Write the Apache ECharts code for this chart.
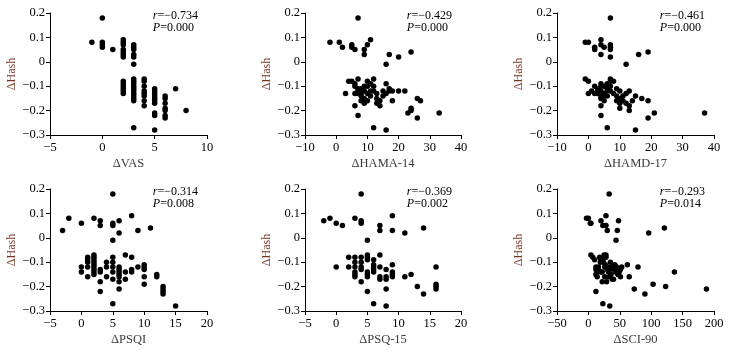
<!DOCTYPE html>
<html>
<head>
<meta charset="utf-8">
<script src="https://cdn.jsdelivr.net/npm/echarts@6/dist/echarts.min.js"></script>
<style>
  html, body { margin: 0; padding: 0; background: #fff; }
  #main { width: 729px; height: 353px; }
</style>
</head>
<body>
<div id="main"></div>
<script>
// [x, ΔHash] pairs
const vasData = [
  [0, 0.18], [-1, 0.08], [0, 0.08], [0, 0.07], [0, 0.06], [1, 0.05],
  [2, 0.09], [2, 0.08], [2, 0.07], [2, 0.05], [2, 0.04], [2, 0.03], [2, 0.02],
  [2, -0.08], [2, -0.09], [2, -0.10], [2, -0.11], [2, -0.12], [2, -0.13],
  [3, 0.07], [3, 0.06], [3, 0.05], [3, 0.03], [3, 0.02], [3, -0.01],
  [3, -0.07], [3, -0.08], [3, -0.09], [3, -0.10], [3, -0.11], [3, -0.12], [3, -0.13], [3, -0.14], [3, -0.15], [3, -0.16], [3, -0.27],
  [4, -0.07], [4, -0.08], [4, -0.10], [4, -0.12], [4, -0.13], [4, -0.14], [4, -0.16], [4, -0.18],
  [5, -0.11], [5, -0.12], [5, -0.13], [5, -0.14], [5, -0.15], [5, -0.16], [5, -0.17], [5, -0.21], [5, -0.22], [5, -0.28],
  [6, -0.14], [6, -0.15], [6, -0.17], [6, -0.19], [6, -0.20], [6, -0.22], [6, -0.23],
  [7, -0.11], [8, -0.20]
];
const hamaData = [
  [-2, 0.08], [1, 0.08], [2, 0.06], [5, 0.07], [5, 0.06], [6, 0.05], [7, 0.18],
  [9, 0.05], [9, 0.03], [10, 0.07], [11, 0.09], [16, -0.01], [17, 0.03], [20, 0.02], [24, 0.04],
  [3, -0.13], [4, -0.08], [5, -0.08], [7, -0.07], [6, -0.18], [7, -0.22], [12, -0.27], [16, -0.28],
  [16, -0.09], [17, -0.11], [17, -0.12], [18, -0.12], [20, -0.12], [22, -0.12], [18, -0.16],
  [23, -0.21], [24, -0.20], [24, -0.19], [26, -0.15], [27, -0.16], [26, -0.23], [33, -0.21],
  [6, -0.09], [6, -0.10], [7, -0.12], [7, -0.13], [8, -0.11], [8, -0.12], [8, -0.14], [8, -0.16],
  [9, -0.15], [9, -0.10], [9, -0.12], [10, -0.08], [10, -0.10], [10, -0.13], [10, -0.16],
  [11, -0.09], [11, -0.14], [12, -0.07], [12, -0.10], [12, -0.12], [13, -0.13], [13, -0.15],
  [14, -0.16], [14, -0.18], [15, -0.14], [15, -0.12], [16, -0.13], [6, -0.13], [7, -0.11],
  [9, -0.17], [11, -0.12], [13, -0.17], [8, -0.13]
];
const hamdData = [
  [-1, 0.08], [0, 0.08], [2, 0.06], [2, 0.05], [4, 0.09], [4, 0.07], [4, 0.03], [5, 0.06],
  [7, 0.18], [7, 0.07], [7, 0.06], [7, 0.05], [7, 0.02], [12, -0.01], [16, 0.03], [19, 0.04],
  [-1, -0.07], [0, -0.08], [0, -0.13], [1, -0.12], [2, -0.10], [2, -0.13], [3, -0.12], [3, -0.13],
  [4, -0.09], [4, -0.10], [4, -0.12], [4, -0.14], [4, -0.15], [5, -0.13], [5, -0.14], [5, -0.16], [5, -0.10],
  [6, -0.09], [6, -0.11], [6, -0.12], [7, -0.07], [7, -0.08], [7, -0.10], [7, -0.12], [8, -0.08], [8, -0.13],
  [9, -0.11], [9, -0.14], [9, -0.16], [10, -0.12], [10, -0.15], [10, -0.17], [10, -0.19],
  [11, -0.14], [11, -0.16], [12, -0.13], [12, -0.17], [13, -0.12], [13, -0.18], [13, -0.20],
  [14, -0.16], [15, -0.14], [17, -0.15], [19, -0.16], [4, -0.18], [4, -0.22], [6, -0.27], [15, -0.28],
  [19, -0.23], [21, -0.21], [37, -0.21], [3, -0.11], [6, -0.14]
];
const psqiData = [
  [-3, 0.03], [-2, 0.08], [0, 0.06], [2, 0.08], [3, 0.07], [3, 0.05], [5, 0.18], [5, 0.06], [5, 0.05],
  [5, -0.01], [6, 0.07], [6, 0.02], [8, 0.09], [9, 0.03], [11, 0.04],
  [0, -0.12], [0, -0.14], [1, -0.08], [1, -0.09], [1, -0.10], [1, -0.12], [1, -0.16],
  [2, -0.07], [2, -0.08], [2, -0.09], [2, -0.10], [2, -0.11], [2, -0.12], [2, -0.13], [2, -0.14], [2, -0.15],
  [3, -0.13], [3, -0.14], [3, -0.18], [3, -0.22], [4, -0.10], [4, -0.12], [4, -0.16],
  [5, -0.08], [5, -0.10], [5, -0.12], [5, -0.14], [5, -0.17], [5, -0.27],
  [6, -0.12], [6, -0.13], [6, -0.14], [6, -0.15], [6, -0.16], [6, -0.18], [6, -0.21],
  [7, -0.07], [7, -0.14], [7, -0.17], [8, -0.08], [8, -0.13], [8, -0.14], [9, -0.12],
  [10, -0.11], [10, -0.12], [10, -0.13], [10, -0.16], [10, -0.19], [12, -0.15], [12, -0.16],
  [13, -0.20], [13, -0.21], [13, -0.22], [13, -0.23], [15, -0.28]
];
const psqData = [
  [-2, 0.07], [-1, 0.08], [0, 0.06], [1, 0.05], [3, 0.08], [4, 0.18], [4, 0.07], [4, 0.06], [5, -0.01],
  [7, 0.05], [7, 0.03], [9, 0.09], [9, 0.03], [11, 0.02], [14, 0.04],
  [0, -0.12], [2, -0.08], [2, -0.12], [3, -0.08], [3, -0.10], [3, -0.12], [3, -0.14], [3, -0.15], [3, -0.16],
  [4, -0.08], [4, -0.10], [4, -0.12], [4, -0.13], [4, -0.18],
  [5, -0.07], [5, -0.08], [5, -0.09], [5, -0.14], [5, -0.15], [5, -0.16], [5, -0.22],
  [6, -0.09], [6, -0.11], [6, -0.12], [6, -0.13], [6, -0.14], [6, -0.27],
  [7, -0.07], [7, -0.12], [7, -0.16], [7, -0.17], [8, -0.13], [8, -0.16], [8, -0.17], [8, -0.21], [8, -0.28],
  [9, -0.11], [9, -0.14], [9, -0.15], [9, -0.16], [11, -0.16], [12, -0.15], [13, -0.20], [14, -0.23],
  [16, -0.12], [16, -0.19], [16, -0.20], [16, -0.21]
];
const sciData = [
  [-3, 0.08], [0, 0.08], [3, 0.06], [4, 0.06], [20, 0.07], [23, 0.05], [28, 0.09], [28, 0.05], [30, 0.03],
  [33, 0.18], [48, 0.07], [46, 0.03], [44, -0.01], [96, 0.02], [121, 0.04],
  [4, -0.07], [7, -0.08], [10, -0.09], [12, -0.12], [12, -0.13], [14, -0.14], [14, -0.16], [16, -0.12],
  [19, -0.10], [20, -0.14], [22, -0.18], [22, -0.09], [24, -0.10], [26, -0.16], [28, -0.07], [28, -0.08],
  [29, -0.18], [31, -0.12], [32, -0.14], [33, -0.16], [35, -0.10], [37, -0.12], [40, -0.17], [41, -0.13],
  [43, -0.14], [45, -0.12], [46, -0.13], [49, -0.14], [51, -0.13], [53, -0.12], [51, -0.16],
  [18, -0.08], [20, -0.09], [25, -0.07], [27, -0.11], [30, -0.13], [36, -0.15], [38, -0.17], [42, -0.11],
  [47, -0.15], [16, -0.13], [12, -0.15], [26, -0.12], [34, -0.13], [22, -0.14],
  [62, -0.11], [65, -0.16], [73, -0.21], [79, -0.12], [90, -0.23], [103, -0.19], [123, -0.20], [137, -0.14], [188, -0.21],
  [12, -0.22], [23, -0.27], [34, -0.28]
];

const xNames = ['\u0394VAS', '\u0394HAMA-14', '\u0394HAMD-17', '\u0394PSQI', '\u0394PSQ-15', '\u0394SCI-90'];
const xMins = [-5, -10, -10, -5, -5, -50];
const xMaxs = [10, 40, 40, 20, 20, 200];
const xSteps = [5, 10, 10, 5, 5, 50];
const rValues = ['\u22120.734', '\u22120.429', '\u22120.461', '\u22120.314', '\u22120.369', '\u22120.293'];
const pValues = ['0.000', '0.000', '0.000', '0.008', '0.002', '0.014'];
const allData = [vasData, hamaData, hamdData, psqiData, psqData, sciData];

const fontFamily = '"Liberation Serif", "DejaVu Serif", serif';
const lefts = [50, 305, 557];
const widths = [157, 156, 157];
const tops = [13, 189];
const plotH = 122;

const minus = (s) => String(s).replace('-', '\u2212');

const grids = [], xAxes = [], yAxes = [], series = [], graphics = [];
for (let i = 0; i < 6; i++) {
  const col = i % 3, row = Math.floor(i / 3);
  grids.push({ left: lefts[col], top: tops[row], width: widths[col], height: plotH });
  xAxes.push({
    gridIndex: i, type: 'value', min: xMins[i], max: xMaxs[i], interval: xSteps[i],
    name: xNames[i], nameLocation: 'middle', nameGap: 22,
    nameTextStyle: { fontFamily, fontSize: 12.5, color: '#3a3a3a' },
    axisLine: { onZero: false, lineStyle: { color: '#000', width: 1 } },
    axisTick: { length: 4, lineStyle: { color: '#000' } },
    axisLabel: { fontFamily, fontSize: 12.5, color: '#000', margin: 6, formatter: v => minus(v) },
    splitLine: { show: false }
  });
  yAxes.push({
    gridIndex: i, type: 'value', min: -0.3, max: 0.2, interval: 0.1,
    name: '\u0394Hash', nameLocation: 'middle', nameGap: 32, nameRotate: 90,
    nameTextStyle: { fontFamily, fontSize: 12, color: '#7a3426' },
    axisLine: { show: true, onZero: false, lineStyle: { color: '#000', width: 1 } },
    axisTick: { show: true, length: 4, lineStyle: { color: '#000' } },
    axisLabel: { fontFamily, fontSize: 12.5, color: '#000', margin: 5,
      formatter: v => (Math.abs(v) < 1e-9 ? '0' : minus(v.toFixed(1))) },
    splitLine: { show: false }
  });
  series.push({
    type: 'scatter', xAxisIndex: i, yAxisIndex: i, data: allData[i],
    symbolSize: 5.5, itemStyle: { color: '#000', opacity: 1 }, silent: true
  });
  graphics.push({
    type: 'text', right: 729 - (lefts[col] + widths[col]) + 9, top: tops[row] - 3,
    style: {
      text: '{i|r}=' + rValues[i] + '\n{i|P}=' + pValues[i],
      font: '12px ' + fontFamily, fill: '#000', lineHeight: 11.5,
      rich: { i: { fontStyle: 'italic', fontFamily, fontSize: 12, fill: '#000' } }
    }
  });
}

const chart = echarts.init(document.getElementById('main'));
chart.setOption({
  animation: false,
  backgroundColor: '#fff',
  grid: grids,
  xAxis: xAxes,
  yAxis: yAxes,
  series: series,
  graphic: graphics
});
</script>
</body>
</html>
